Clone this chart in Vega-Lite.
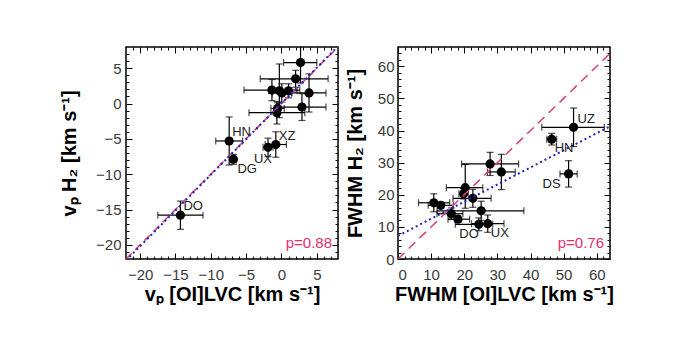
{
  "$schema": "https://vega.github.io/schema/vega-lite/v6.json",
  "background": "white",
  "padding": {"left": 58, "top": 45, "right": 0, "bottom": 0},
  "spacing": 4,
  "config": {
    "view": {"stroke": "black", "strokeWidth": 1.5},
    "font": "Liberation Sans",
    "axis": {"domain": false, "grid": false, "labelFont": "Liberation Sans", "labelFontSize": 15, "labelColor": "#3a3a3a", "titleFont": "Liberation Sans", "titleFontSize": 20, "titleFontWeight": "bold", "titleColor": "black", "tickColor": "black", "tickWidth": 1}
  },
  "datasets": {
    "vp": [
      {"name": "DO", "x": -14.3, "xlo": -17.5, "xhi": -11.1, "y": -15.8, "ylo": -17.8, "yhi": -13.8},
      {"name": "HN", "x": -7.4, "xlo": -9.3, "xhi": -5.5, "y": -5.3, "ylo": -8.7, "yhi": -1.9},
      {"name": "DG", "x": -6.8, "xlo": -7.2, "xhi": -6.4, "y": -7.9, "ylo": -8.6, "yhi": -7.2},
      {"name": "UX", "x": -1.9, "xlo": -2.6, "xhi": -1.2, "y": -6.2, "ylo": -7.5, "yhi": -4.9},
      {"name": "XZ", "x": -0.8, "xlo": -2.3, "xhi": 0.7, "y": -5.8, "ylo": -7.6, "yhi": -4.0},
      {"name": "", "x": 2.7, "xlo": 0.3, "xhi": 5.0, "y": 5.8, "ylo": 2.9, "yhi": 8.6},
      {"name": "", "x": 2.0, "xlo": -3.0, "xhi": 6.6, "y": 3.5, "ylo": 2.3, "yhi": 4.7},
      {"name": "", "x": -1.35, "xlo": -5.3, "xhi": 2.6, "y": 1.9, "ylo": 0.4, "yhi": 3.4},
      {"name": "", "x": -0.3, "xlo": -1.8, "xhi": 1.2, "y": 1.8, "ylo": -2.0, "yhi": 5.6},
      {"name": "", "x": 0.05, "xlo": -1.3, "xhi": 1.4, "y": 1.5, "ylo": 0.2, "yhi": 2.8},
      {"name": "", "x": 1.0, "xlo": -0.2, "xhi": 2.2, "y": 1.8, "ylo": 0.8, "yhi": 2.8},
      {"name": "", "x": 3.9, "xlo": 1.5, "xhi": 6.3, "y": 1.5, "ylo": -1.2, "yhi": 4.2},
      {"name": "", "x": 2.9, "xlo": -0.4, "xhi": 6.3, "y": -0.5, "ylo": -2.4, "yhi": 1.4},
      {"name": "", "x": -0.55, "xlo": -1.5, "xhi": 0.4, "y": -0.7, "ylo": -1.5, "yhi": 0.1},
      {"name": "", "x": -0.65, "xlo": -4.6, "xhi": 3.3, "y": -1.3, "ylo": -2.9, "yhi": 0.3}
    ],
    "fwhm": [
      {"name": "UZ", "x": 53.0, "xlo": 43.4, "xhi": 62.3, "y": 41.0, "ylo": 35.0, "yhi": 47.0},
      {"name": "HN", "x": 46.4, "xlo": 44.9, "xhi": 47.9, "y": 37.3, "ylo": 35.5, "yhi": 39.1},
      {"name": "DS", "x": 51.5, "xlo": 48.9, "xhi": 54.1, "y": 26.5, "ylo": 22.4, "yhi": 30.6},
      {"name": "", "x": 27.8, "xlo": 19.2, "xhi": 36.4, "y": 29.6, "ylo": 26.0, "yhi": 33.2},
      {"name": "", "x": 31.2, "xlo": 27.0, "xhi": 35.4, "y": 27.1, "ylo": 21.6, "yhi": 32.6},
      {"name": "", "x": 20.3, "xlo": 14.6, "xhi": 25.6, "y": 22.2, "ylo": 15.8, "yhi": 29.4},
      {"name": "", "x": 19.8, "xlo": 18.4, "xhi": 21.2, "y": 20.3, "ylo": 18.7, "yhi": 21.9},
      {"name": "", "x": 22.6, "xlo": 16.6, "xhi": 28.1, "y": 18.9, "ylo": 16.1, "yhi": 21.7},
      {"name": "", "x": 10.8, "xlo": 6.2, "xhi": 15.6, "y": 17.5, "ylo": 14.7, "yhi": 20.3},
      {"name": "", "x": 12.9, "xlo": 9.1, "xhi": 16.7, "y": 16.7, "ylo": 15.7, "yhi": 17.7},
      {"name": "", "x": 16.1, "xlo": 11.8, "xhi": 19.6, "y": 14.1, "ylo": 12.3, "yhi": 15.9},
      {"name": "", "x": 18.1, "xlo": 15.1, "xhi": 21.6, "y": 12.4, "ylo": 11.4, "yhi": 13.4},
      {"name": "", "x": 25.1, "xlo": 11.8, "xhi": 38.0, "y": 15.0, "ylo": 12.0, "yhi": 18.0},
      {"name": "DO", "x": 24.4, "xlo": 17.3, "xhi": 28.6, "y": 10.8, "ylo": 8.8, "yhi": 12.8},
      {"name": "UX", "x": 27.1, "xlo": 22.2, "xhi": 32.0, "y": 11.0, "ylo": 8.3, "yhi": 13.7}
    ],
    "vp_lines": [
      {"fit": "eq", "x": -22, "y": -22}, {"fit": "eq", "x": 8, "y": 8},
      {"fit": "fit", "x": -22, "y": -22.2}, {"fit": "fit", "x": 8, "y": 8.1}
    ],
    "fwhm_lines": [
      {"fit": "eq", "x": 0, "y": 0}, {"fit": "eq", "x": 64, "y": 64},
      {"fit": "fit", "x": 0, "y": 7.2}, {"fit": "fit", "x": 64, "y": 41.3}
    ],
    "vp_stat": [{"rho": "p=0.88"}],
    "fwhm_stat": [{"rho": "p=0.76"}]
  },
  "hconcat": [
    {
      "width": 212, "height": 212,
      "data": {"name": "vp"},
      "resolve": {"axis": {"x": "independent", "y": "independent"}},
      "layer": [
        {
          "mark": {"type": "errorbar", "ticks": {"size": 7, "color": "black"}, "color": "black", "thickness": 1.2, "clip": true},
          "encoding": {
            "x": {"field": "xlo", "type": "quantitative", "scale": {"domain": [-22, 8], "nice": false, "zero": false},
              "axis": {"orient": "bottom", "values": [-20, -15, -10, -5, 0, 5], "labels": false, "title": null, "tickSize": -6}},
            "x2": {"field": "xhi"},
            "y": {"field": "y", "type": "quantitative", "scale": {"domain": [-22, 8], "nice": false, "zero": false},
              "axis": {"orient": "left", "values": [-20, -15, -10, -5, 0, 5], "labels": false, "title": null, "tickSize": -6}}
          }
        },
        {
          "mark": {"type": "errorbar", "ticks": {"size": 7, "color": "black"}, "color": "black", "thickness": 1.2, "clip": true},
          "encoding": {
            "x": {"field": "x", "type": "quantitative",
              "axis": {"orient": "top", "values": [-20, -15, -10, -5, 0, 5], "labels": false, "title": null, "tickSize": -6}},
            "y": {"field": "ylo", "type": "quantitative",
              "axis": {"orient": "right", "values": [-20, -15, -10, -5, 0, 5], "labels": false, "title": null, "tickSize": -6}},
            "y2": {"field": "yhi"}
          }
        },
        {
          "mark": {"type": "circle", "size": 85, "color": "black", "opacity": 1},
          "encoding": {
            "x": {"field": "x", "type": "quantitative",
              "axis": {"orient": "bottom", "values": [-20, -15, -10, -5, 0, 5], "ticks": false, "labelPadding": 8, "title": "vₚ [OI]LVC [km s⁻¹]", "titlePadding": 2}},
            "y": {"field": "y", "type": "quantitative",
              "axis": {"orient": "left", "values": [-20, -15, -10, -5, 0, 5], "ticks": false, "labelPadding": 5, "title": "vₚ H₂ [km s⁻¹]", "titlePadding": 16}}
          }
        },
        {
          "data": {"name": "vp_lines"},
          "transform": [{"filter": "datum.fit === 'eq'"}],
          "mark": {"type": "line", "color": "#d9416f", "strokeWidth": 1.5, "strokeDash": [8, 5], "clip": true},
          "encoding": {
            "x": {"field": "x", "type": "quantitative",
              "axis": {"orient": "bottom", "values": [-21, -19, -18, -17, -16, -14, -13, -12, -11, -9, -8, -7, -6, -4, -3, -2, -1, 1, 2, 3, 4, 6, 7], "labels": false, "title": null, "tickSize": -3}},
            "y": {"field": "y", "type": "quantitative",
              "axis": {"orient": "left", "values": [-21, -19, -18, -17, -16, -14, -13, -12, -11, -9, -8, -7, -6, -4, -3, -2, -1, 1, 2, 3, 4, 6, 7], "labels": false, "title": null, "tickSize": -3}}
          }
        },
        {
          "data": {"name": "vp_lines"},
          "transform": [{"filter": "datum.fit === 'fit'"}],
          "mark": {"type": "line", "color": "#2020c8", "strokeWidth": 2, "strokeDash": [2, 3], "clip": true},
          "encoding": {
            "x": {"field": "x", "type": "quantitative",
              "axis": {"orient": "top", "values": [-21, -19, -18, -17, -16, -14, -13, -12, -11, -9, -8, -7, -6, -4, -3, -2, -1, 1, 2, 3, 4, 6, 7], "labels": false, "title": null, "tickSize": -3}},
            "y": {"field": "y", "type": "quantitative",
              "axis": {"orient": "right", "values": [-21, -19, -18, -17, -16, -14, -13, -12, -11, -9, -8, -7, -6, -4, -3, -2, -1, 1, 2, 3, 4, 6, 7], "labels": false, "title": null, "tickSize": -3}}
          }
        },
        {
          "transform": [{"filter": {"field": "name", "oneOf": ["DO", "HN", "XZ"]}}],
          "mark": {"type": "text", "align": "left", "baseline": "middle", "dx": 3, "dy": -9, "fontSize": 13, "color": "#222222"},
          "encoding": {
            "x": {"field": "x", "type": "quantitative", "axis": null},
            "y": {"field": "y", "type": "quantitative", "axis": null},
            "text": {"field": "name"}
          }
        },
        {
          "transform": [{"filter": {"field": "name", "oneOf": ["DG"]}}],
          "mark": {"type": "text", "align": "left", "baseline": "middle", "dx": 4, "dy": 10, "fontSize": 13, "color": "#222222"},
          "encoding": {
            "x": {"field": "x", "type": "quantitative", "axis": null},
            "y": {"field": "y", "type": "quantitative", "axis": null},
            "text": {"field": "name"}
          }
        },
        {
          "transform": [{"filter": {"field": "name", "oneOf": ["UX"]}}],
          "mark": {"type": "text", "align": "right", "baseline": "middle", "dx": 4, "dy": 12, "fontSize": 13, "color": "#222222"},
          "encoding": {
            "x": {"field": "x", "type": "quantitative", "axis": null},
            "y": {"field": "y", "type": "quantitative", "axis": null},
            "text": {"field": "name"}
          }
        },
        {
          "data": {"name": "vp_stat"},
          "mark": {"type": "text", "align": "right", "baseline": "middle", "dx": -6, "dy": -16, "fontSize": 15, "color": "#e0306a"},
          "encoding": {
            "x": {"datum": 8, "type": "quantitative", "axis": null},
            "y": {"datum": -22, "type": "quantitative", "axis": null},
            "text": {"field": "rho"}
          }
        }
      ]
    },
    {
      "width": 212, "height": 212,
      "data": {"name": "fwhm"},
      "resolve": {"axis": {"x": "independent", "y": "independent"}},
      "layer": [
        {
          "mark": {"type": "errorbar", "ticks": {"size": 7, "color": "black"}, "color": "black", "thickness": 1.2, "clip": true},
          "encoding": {
            "x": {"field": "xlo", "type": "quantitative", "scale": {"domain": [0, 64], "nice": false, "zero": false},
              "axis": {"orient": "bottom", "values": [0, 10, 20, 30, 40, 50, 60], "labels": false, "title": null, "tickSize": -6}},
            "x2": {"field": "xhi"},
            "y": {"field": "y", "type": "quantitative", "scale": {"domain": [0, 66], "nice": false, "zero": false},
              "axis": {"orient": "left", "values": [0, 10, 20, 30, 40, 50, 60], "labels": false, "title": null, "tickSize": -6}}
          }
        },
        {
          "mark": {"type": "errorbar", "ticks": {"size": 7, "color": "black"}, "color": "black", "thickness": 1.2, "clip": true},
          "encoding": {
            "x": {"field": "x", "type": "quantitative",
              "axis": {"orient": "top", "values": [0, 10, 20, 30, 40, 50, 60], "labels": false, "title": null, "tickSize": -6}},
            "y": {"field": "ylo", "type": "quantitative",
              "axis": {"orient": "right", "values": [0, 10, 20, 30, 40, 50, 60], "labels": false, "title": null, "tickSize": -6}},
            "y2": {"field": "yhi"}
          }
        },
        {
          "mark": {"type": "circle", "size": 85, "color": "black", "opacity": 1},
          "encoding": {
            "x": {"field": "x", "type": "quantitative",
              "axis": {"orient": "bottom", "values": [0, 10, 20, 30, 40, 50, 60], "ticks": false, "labelPadding": 8, "title": "FWHM [OI]LVC [km s⁻¹]", "titlePadding": 2}},
            "y": {"field": "y", "type": "quantitative",
              "axis": {"orient": "left", "values": [0, 10, 20, 30, 40, 50, 60], "ticks": false, "labelPadding": 4, "title": "FWHM H₂ [km s⁻¹]", "titlePadding": 12}}
          }
        },
        {
          "data": {"name": "fwhm_lines"},
          "transform": [{"filter": "datum.fit === 'eq'"}],
          "mark": {"type": "line", "color": "#d9416f", "strokeWidth": 1.5, "strokeDash": [9, 6], "clip": true},
          "encoding": {
            "x": {"field": "x", "type": "quantitative",
              "axis": {"orient": "bottom", "values": [2, 4, 6, 8, 12, 14, 16, 18, 22, 24, 26, 28, 32, 34, 36, 38, 42, 44, 46, 48, 52, 54, 56, 58, 62], "labels": false, "title": null, "tickSize": -3}},
            "y": {"field": "y", "type": "quantitative",
              "axis": {"orient": "left", "values": [2, 4, 6, 8, 12, 14, 16, 18, 22, 24, 26, 28, 32, 34, 36, 38, 42, 44, 46, 48, 52, 54, 56, 58, 62, 64], "labels": false, "title": null, "tickSize": -3}}
          }
        },
        {
          "data": {"name": "fwhm_lines"},
          "transform": [{"filter": "datum.fit === 'fit'"}],
          "mark": {"type": "line", "color": "#2020c8", "strokeWidth": 2, "strokeDash": [2, 3], "clip": true},
          "encoding": {
            "x": {"field": "x", "type": "quantitative",
              "axis": {"orient": "top", "values": [2, 4, 6, 8, 12, 14, 16, 18, 22, 24, 26, 28, 32, 34, 36, 38, 42, 44, 46, 48, 52, 54, 56, 58, 62], "labels": false, "title": null, "tickSize": -3}},
            "y": {"field": "y", "type": "quantitative",
              "axis": {"orient": "right", "values": [2, 4, 6, 8, 12, 14, 16, 18, 22, 24, 26, 28, 32, 34, 36, 38, 42, 44, 46, 48, 52, 54, 56, 58, 62, 64], "labels": false, "title": null, "tickSize": -3}}
          }
        },
        {
          "transform": [{"filter": {"field": "name", "oneOf": ["UZ"]}}],
          "mark": {"type": "text", "align": "left", "baseline": "middle", "dx": 4, "dy": -8, "fontSize": 13, "color": "#222222"},
          "encoding": {
            "x": {"field": "x", "type": "quantitative", "axis": null},
            "y": {"field": "y", "type": "quantitative", "axis": null},
            "text": {"field": "name"}
          }
        },
        {
          "transform": [{"filter": {"field": "name", "oneOf": ["HN", "UX"]}}],
          "mark": {"type": "text", "align": "left", "baseline": "middle", "dx": 3, "dy": 9, "fontSize": 13, "color": "#222222"},
          "encoding": {
            "x": {"field": "x", "type": "quantitative", "axis": null},
            "y": {"field": "y", "type": "quantitative", "axis": null},
            "text": {"field": "name"}
          }
        },
        {
          "transform": [{"filter": {"field": "name", "oneOf": ["DO"]}}],
          "mark": {"type": "text", "align": "right", "baseline": "middle", "dx": 0, "dy": 10, "fontSize": 13, "color": "#222222"},
          "encoding": {
            "x": {"field": "x", "type": "quantitative", "axis": null},
            "y": {"field": "y", "type": "quantitative", "axis": null},
            "text": {"field": "name"}
          }
        },
        {
          "transform": [{"filter": {"field": "name", "oneOf": ["DS"]}}],
          "mark": {"type": "text", "align": "right", "baseline": "middle", "dx": -8, "dy": 10, "fontSize": 13, "color": "#222222"},
          "encoding": {
            "x": {"field": "x", "type": "quantitative", "axis": null},
            "y": {"field": "y", "type": "quantitative", "axis": null},
            "text": {"field": "name"}
          }
        },
        {
          "data": {"name": "fwhm_stat"},
          "mark": {"type": "text", "align": "right", "baseline": "middle", "dx": -6, "dy": -16, "fontSize": 15, "color": "#e0306a"},
          "encoding": {
            "x": {"datum": 64, "type": "quantitative", "axis": null},
            "y": {"datum": 0, "type": "quantitative", "axis": null},
            "text": {"field": "rho"}
          }
        }
      ]
    }
  ]
}
